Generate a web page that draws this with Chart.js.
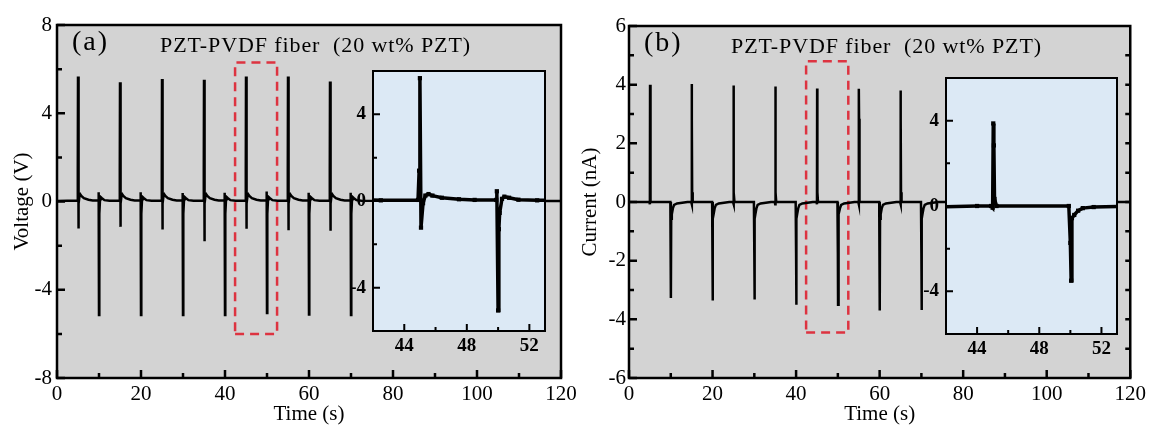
<!DOCTYPE html>
<html lang="en">
<head>
<meta charset="UTF-8">
<title>PZT-PVDF fiber (20 wt% PZT): voltage and current</title>
<script src="https://cdn.jsdelivr.net/npm/chart.js"></script>
<style>
    body {
        margin: 0;
        background: #fff;
        width: 1150px;
        height: 425px;
        position: relative;
        overflow: hidden;
        font-family: "Liberation Serif", serif;
    }
    canvas { position: absolute; }
    .tag {
        position: absolute;
        line-height: 1;
        white-space: pre;
        color: #000;
    }
    .panel { font-size: 28px; letter-spacing: 2px; }
    .note { font-size: 22px; letter-spacing: 0.9px; }
</style>
</head>
<body>
<canvas id="mainA" width="600" height="425" style="left:0;top:0"></canvas>
<canvas id="insetA" width="220" height="310" style="left:335px;top:51px"></canvas>
<canvas id="mainB" width="575" height="425" style="left:575px;top:0"></canvas>
<canvas id="insetB" width="220" height="310" style="left:908px;top:58px"></canvas>
<div class="tag panel" style="left:72px;top:27px">(a)</div>
<div class="tag note" style="left:160px;top:34px">PZT-PVDF fiber  (20 wt% PZT)</div>
<div class="tag panel" style="left:644px;top:28px">(b)</div>
<div class="tag note" style="left:731px;top:35px">PZT-PVDF fiber  (20 wt% PZT)</div>
<script>
    // ---- panel (a): voltage, V ----
    const upTimeA   = [5, 15, 25, 35, 45, 55, 65];
    const upPeakA   = [5.67, 5.41, 5.55, 5.52, 5.67, 5.67, 5.44];
    const upDipA    = [-1.22, -1.15, -1.27, -1.8, -1.23, -1.3, -1.33];
    const downTimeA = [10, 20, 30, 40, 50, 60, 70];
    const downPreA  = [0.42, 0.42, 0.38, 0.4, 0.45, 0.4, 0.4];
    const downPeakA = [-5.15, -5.15, -5.15, -5.15, -5.05, -5.12, -5.15];

    // ---- panel (b): current, nA ----
    const upTimeB   = [5, 15, 25, 35, 45, 55, 65];
    const upPeakB   = [4.0, 4.02, 3.97, 3.94, 3.87, 3.86, 3.8];
    const downTimeB = [10, 20, 30, 40, 50, 60, 70];
    const downPeakB = [-3.27, -3.36, -3.32, -3.5, -3.5, -3.7, -3.68];

    // red dashed boxes (time s, value)
    const boxA = { t: [42.4, 52.4], v: [-6.0, 6.3] };
    const boxB = { t: [42.4, 52.5], v: [-4.45, 4.8] };

    // axis ticks
    const timeTicks = [0, 20, 40, 60, 80, 100, 120];
    const timeMinor = [10, 30, 50, 70, 90, 110];
    const voltTicks = [8, 4, 0, -4, -8];
    const voltMinor = [6, 2, -2, -6];
    const currTicks = [6, 4, 2, 0, -2, -4, -6];
    const currMinor = [5, 3, 1, -1, -3, -5];
    const currRight = [5, 4, 3, 2, 1, 0, -1, -2, -3, -4, -5];
    const zoomTicks = [44, 48, 52];
    const zoomMinor = [46, 50];
    const zoomYTicks = [4, 0, -4];
    const zoomYMinor = [2, -2];

    // build the traces; spike shapes
    function voltageSeries() {
        const pts = [[0, 0.02]];
        for (let i = 0; i < upTimeA.length; i++) {
            const u = upTimeA[i];
            pts.push([u - 0.12, 0.05], [u - 0.05, 1.4], [u, upPeakA[i]], [u + 0.07, upDipA[i]],
                     [u + 0.2, -0.1], [u + 0.35, 0.25], [u + 0.55, 0.32], [u + 0.8, 0.25],
                     [u + 1.4, 0.15], [u + 2.5, 0.08], [u + 3.5, 0.05]);
            const d = downTimeA[i];
            pts.push([d - 0.12, 0.05], [d - 0.08, downPreA[i]], [d, downPeakA[i]], [d + 0.05, -1.3],
                     [d + 0.1, -0.55], [d + 0.25, 0.1], [d + 0.4, 0.2], [d + 0.7, 0.15],
                     [d + 1.3, 0.06], [d + 2.5, 0.03]);
        }
        pts.push([120, 0.02]);
        return pts.map(p => ({ x: p[0], y: p[1] }));
    }

    function currentSeries() {
        const pts = [[0, 0]];
        for (let i = 0; i < upTimeB.length; i++) {
            const u = upTimeB[i];
            pts.push([u - 0.1, 0], [u, -0.08], [u + 0.04, upPeakB[i]], [u + 0.08, 2.84],
                     [u + 0.12, 0.33], [u + 0.25, 0]);
            const d = downTimeB[i];
            pts.push([d - 0.1, 0], [d, -1.73], [d + 0.05, downPeakB[i]], [d + 0.1, -0.57],
                     [d + 0.25, -0.42], [d + 0.5, -0.22], [d + 0.8, -0.1], [d + 1.5, -0.05], [d + 4, 0]);
        }
        pts.push([120, 0]);
        return pts.map(p => ({ x: p[0], y: p[1] }));
    }

    function boxPoints(b) {
        return [
            { x: b.t[0], y: b.v[0] }, { x: b.t[1], y: b.v[0] }, { x: b.t[1], y: b.v[1] },
            { x: b.t[0], y: b.v[1] }, { x: b.t[0], y: b.v[0] }
        ];
    }

    // background, box frame and inward ticks
    function framePlugin(cfg) {
        return {
            id: 'frame',
            beforeDatasetsDraw(chart) {
                const { ctx, chartArea: a } = chart;
                ctx.save();
                ctx.fillStyle = cfg.bg;
                ctx.fillRect(a.left, a.top, a.right - a.left, a.bottom - a.top);
                ctx.restore();
            },
            afterDraw(chart) {
                const { ctx, chartArea: a, scales: { x, y } } = chart;
                ctx.save();
                ctx.strokeStyle = '#000';
                ctx.lineWidth = cfg.tickWidth;
                ctx.beginPath();
                const xt = (v, len) => {
                    const p = x.getPixelForValue(v);
                    ctx.moveTo(p, a.bottom); ctx.lineTo(p, a.bottom - len);
                };
                const yt = (v, len) => {
                    const p = y.getPixelForValue(v);
                    ctx.moveTo(a.left, p); ctx.lineTo(a.left + len, p);
                };
                x.ticks.forEach(t => xt(t.value, cfg.major));
                cfg.minorX.forEach(v => xt(v, cfg.minor));
                y.ticks.forEach(t => yt(t.value, cfg.major));
                cfg.minorY.forEach(v => yt(v, cfg.minor));
                (cfg.rightY || []).forEach(v => {
                    const p = y.getPixelForValue(v);
                    ctx.moveTo(a.right, p); ctx.lineTo(a.right - cfg.minor, p);
                });
                ctx.stroke();
                ctx.lineWidth = cfg.frameWidth;
                ctx.strokeRect(a.left, a.top, a.right - a.left, a.bottom - a.top);
                ctx.restore();
            }
        };
    }

    Chart.defaults.font.family = '"Liberation Serif", serif';
    Chart.defaults.color = '#000';

    const tickFont = { family: '"Liberation Serif", serif', size: 21 };
    const titleFont = { family: '"Liberation Serif", serif', size: 21, lineHeight: 1 };
    const insetFont = { family: '"Liberation Serif", serif', size: 19, weight: 'bold' };

    function makeMain(id, o) {
        return new Chart(document.getElementById(id), {
            type: 'line',
            data: {
                datasets: [
                    { data: o.series, borderColor: '#000', borderWidth: 2.5, pointRadius: 0, tension: 0 },
                    { data: boxPoints(o.box), borderColor: '#dd3340', borderWidth: 2.5,
                      borderDash: [9, 6], pointRadius: 0, tension: 0 }
                ]
            },
            options: {
                responsive: false,
                animation: false,
                events: [],
                layout: { padding: { left: 0, top: o.top, right: o.right, bottom: 0 } },
                plugins: { legend: { display: false }, tooltip: { enabled: false } },
                scales: {
                    x: {
                        type: 'linear', min: 0, max: 120,
                        grid: { display: false, drawTicks: false },
                        border: { display: false },
                        afterBuildTicks: s => { s.ticks = timeTicks.map(v => ({ value: v })); },
                        afterFit: s => { s.height = 47; },
                        ticks: { font: tickFont, color: '#000', padding: 4, maxRotation: 0 },
                        title: { display: true, text: 'Time (s)', font: titleFont, color: '#000',
                                 padding: { top: 0, bottom: 0 } }
                    },
                    y: {
                        type: 'linear', min: o.yMin, max: o.yMax,
                        grid: { display: false, drawTicks: false },
                        border: { display: false },
                        afterBuildTicks: s => { s.ticks = o.yTicks.map(v => ({ value: v })); },
                        afterFit: s => { s.width = o.left; },
                        ticks: { font: tickFont, color: '#000', padding: o.labelPad },
                        title: { display: true, text: o.yTitle, font: titleFont, color: '#000',
                                 padding: { top: o.titlePad, bottom: 0 } }
                    }
                }
            },
            plugins: [framePlugin({
                bg: '#d3d3d3', tickWidth: 2.5, frameWidth: 2.5, major: 8, minor: 5,
                minorX: timeMinor, minorY: o.yMinor, rightY: o.rightY
            })]
        });
    }

    function makeInset(id, o) {
        return new Chart(document.getElementById(id), {
            type: 'line',
            data: {
                datasets: [{
                    data: o.series, borderColor: '#000', borderWidth: 3.5, tension: 0,
                    pointStyle: 'rect', pointRadius: 3, pointBackgroundColor: '#000',
                    pointBorderWidth: 0
                }]
            },
            options: {
                responsive: false,
                animation: false,
                events: [],
                layout: { padding: { left: 0, top: 20, right: o.right, bottom: 0 } },
                plugins: { legend: { display: false }, tooltip: { enabled: false } },
                scales: {
                    x: {
                        type: 'linear', min: 42, max: 53,
                        grid: { display: false, drawTicks: false },
                        border: { display: false },
                        afterBuildTicks: s => { s.ticks = zoomTicks.map(v => ({ value: v })); },
                        afterFit: s => { s.height = o.bottom; },
                        ticks: { font: insetFont, color: '#000', padding: 4, maxRotation: 0 }
                    },
                    y: {
                        type: 'linear', min: -6, max: 6,
                        grid: { display: false, drawTicks: false },
                        border: { display: false },
                        afterBuildTicks: s => { s.ticks = zoomYTicks.map(v => ({ value: v })); },
                        afterFit: s => { s.width = 38; },
                        ticks: { font: insetFont, color: '#000', padding: 7 }
                    }
                }
            },
            plugins: [framePlugin({
                bg: '#dce9f5', tickWidth: 2, frameWidth: 2, major: 7, minor: 4,
                minorX: zoomMinor, minorY: zoomYMinor
            })]
        });
    }

    const voltage = voltageSeries();
    const current = currentSeries();

    makeMain('mainA', {
        series: voltage, box: boxA, yMin: -8, yMax: 8, yTicks: voltTicks, yMinor: voltMinor,
        yTitle: 'Voltage (V)', left: 57, top: 25, right: 39, labelPad: 5, titlePad: 12
    });
    makeMain('mainB', {
        series: current, box: boxB, yMin: -6, yMax: 6, yTicks: currTicks, yMinor: currMinor,
        rightY: currRight, yTitle: 'Current (nA)', left: 54, top: 26, right: 17, labelPad: 3, titlePad: 5
    });
    makeInset('insetA', { series: voltage, right: 10, bottom: 30 });
    makeInset('insetB', { series: current, right: 11, bottom: 34 });
</script>
</body>
</html>
